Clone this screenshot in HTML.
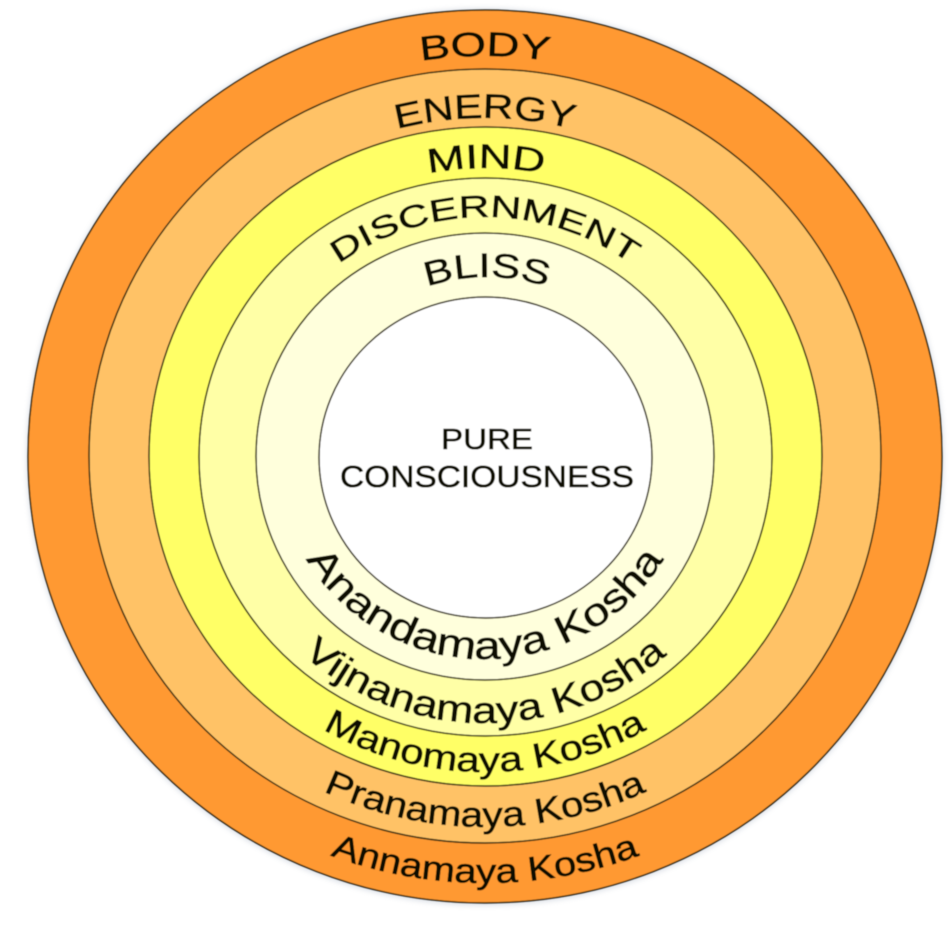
<!DOCTYPE html>
<html><head><meta charset="utf-8"><style>
html,body{margin:0;padding:0;background:#fff;width:952px;height:940px;overflow:hidden}
svg{display:block}
text{font-family:"Liberation Sans",sans-serif;fill:#0c0a02;stroke:#0c0a02;stroke-width:.6;text-anchor:middle}
.e{stroke:#2a2510;stroke-width:1.5}
</style></head><body>
<svg width="952" height="940" viewBox="0 0 952 940" xmlns="http://www.w3.org/2000/svg">
<defs>
<filter id="b" x="-5%" y="-5%" width="110%" height="110%"><feGaussianBlur stdDeviation="0.55"/></filter>
<filter id="s" x="-5%" y="-5%" width="110%" height="110%"><feGaussianBlur stdDeviation="2.5"/></filter>
<path id="t1" d="M75 457A410 401 0 0 1 895 457"/>
<path id="t2" d="M137 457A348 339 0 0 1 833 457"/>
<path id="t3" d="M189 457A297 289 0 0 1 783 457"/>
<path id="t4" d="M239 457A246 240 0 0 1 731 457"/>
<path id="t5" d="M303 457A184 180 0 0 1 671 457"/>
<path id="b1" d="M278 457A207 202 0 0 0 692 457"/>
<path id="b2" d="M213 457A272 266 0 0 0 757 457"/>
<path id="b3" d="M163 457A322 315 0 0 0 807 457"/>
<path id="b4" d="M107 457A378 370 0 0 0 863 457"/>
<path id="b5" d="M49 457A436 426 0 0 0 921 457"/>
</defs>
<g filter="url(#b)">
<ellipse cx="485" cy="457" rx="459" ry="449" fill="#a9b4c4" opacity=".35" filter="url(#s)"/>
<ellipse class="e" cx="485" cy="456.5" rx="457" ry="446.5" fill="#ff9933"/>
<ellipse class="e" cx="485" cy="456" rx="396" ry="387" fill="#ffc266"/>
<ellipse class="e" cx="485.5" cy="456.5" rx="336.5" ry="329.5" fill="#ffff66"/>
<ellipse class="e" cx="485.5" cy="457" rx="286.5" ry="279" fill="#ffffa6"/>
<ellipse class="e" cx="485" cy="456.5" rx="229" ry="223.5" fill="#ffffdc"/>
<ellipse class="e" cx="485.5" cy="457.5" rx="166.5" ry="160.5" fill="#ffffff"/>
<g font-size="34">
<text><textPath href="#t1" startOffset="50%" textLength="129" lengthAdjust="spacingAndGlyphs">BODY</textPath></text>
<text><textPath href="#t2" startOffset="50%" textLength="178" lengthAdjust="spacingAndGlyphs">ENERGY</textPath></text>
<text><textPath href="#t3" startOffset="50%" textLength="116" lengthAdjust="spacingAndGlyphs">MIND</textPath></text>
<text font-size="31"><textPath href="#t4" startOffset="50%" textLength="312" lengthAdjust="spacingAndGlyphs">DISCERNMENT</textPath></text>
<text><textPath href="#t5" startOffset="50%" textLength="122" lengthAdjust="spacingAndGlyphs">BLISS</textPath></text>
</g>
<g font-size="35">
<text font-size="39"><textPath href="#b1" startOffset="50%" textLength="428" lengthAdjust="spacingAndGlyphs">Anandamaya Kosha</textPath></text>
<text font-size="37"><textPath href="#b2" startOffset="50%" textLength="398" lengthAdjust="spacingAndGlyphs">Vijnanamaya Kosha</textPath></text>
<text><textPath href="#b3" startOffset="50%" textLength="339" lengthAdjust="spacingAndGlyphs">Manomaya Kosha</textPath></text>
<text><textPath href="#b4" startOffset="50%" textLength="334" lengthAdjust="spacingAndGlyphs">Pranamaya Kosha</textPath></text>
<text font-size="34"><textPath href="#b5" startOffset="50%" textLength="316" lengthAdjust="spacingAndGlyphs">Annamaya Kosha</textPath></text>
</g>
<text x="487" y="449" font-size="29" textLength="92" lengthAdjust="spacingAndGlyphs">PURE</text>
<text x="487" y="487" font-size="31" textLength="294" lengthAdjust="spacingAndGlyphs">CONSCIOUSNESS</text>
</g>
</svg>
</body></html>
